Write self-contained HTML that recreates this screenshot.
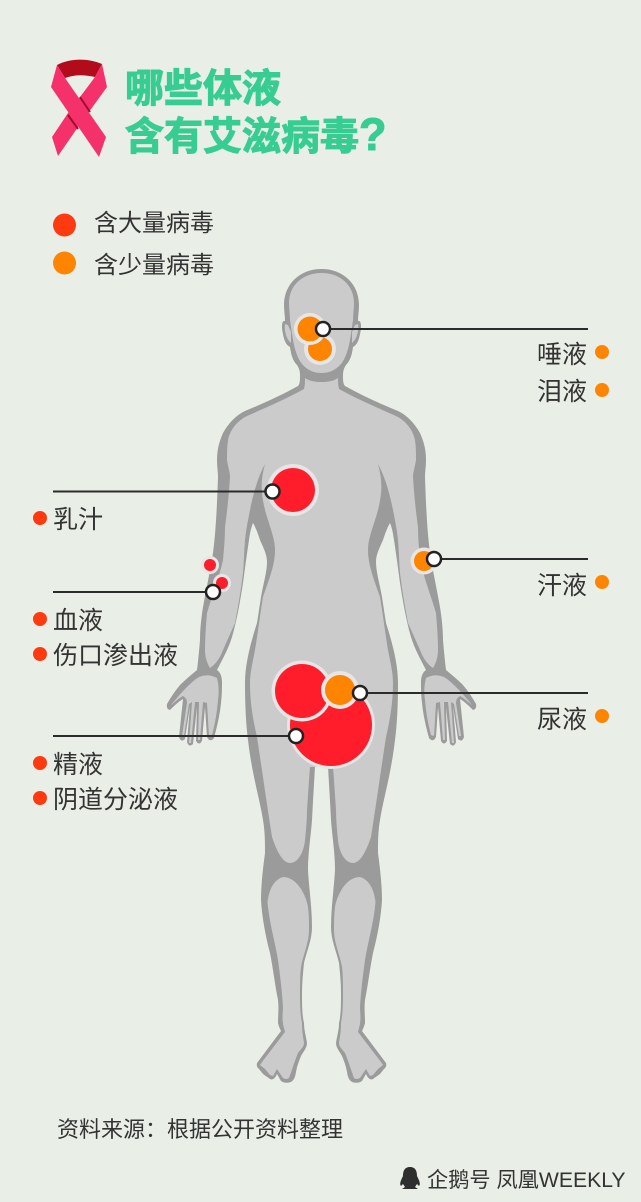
<!DOCTYPE html>
<html><head><meta charset="utf-8"><style>
html,body{margin:0;padding:0;background:#e9efe6}
svg{display:block}
text{font-family:"Liberation Sans","Noto Sans CJK SC",sans-serif;font-size:25px;fill:#333}
.t{font-weight:700;font-size:39px;fill:#37cd92;stroke:#37cd92;stroke-width:1.1}
</style></head><body>
<svg width="641" height="1202" viewBox="0 0 641 1202" xmlns="http://www.w3.org/2000/svg">
<defs>
<g id="half">
<path fill="#9b9b9b" d="M321.5,269C300,269 284,284 284,305C284,311 285,316 285,321C282,320 281,326 283,334C284,340 286,345 290,347C291,355 293,361 297,365C299,368 300,371 300,375C300,380 300,384 298,386C280,396 262,404 245,411C236,415 228,424 223,433C219,442 217,450 217,460C217,467 218,472 218,477C217,505 216,530 213,553C210,572 206,590 203,607C201,620 200,630 200,640C199,652 198,662 197,670C191,675 185,680 180,685C175,691 171,697 167,704Q166,709 170,710C174,706 178,702 183,699L179,737Q181,743 185,739L190,706L187,742Q189,748 193,744L197,707L196,741Q199,746 202,741L205,707L207,737Q210,743 214,738C217,727 220,714 221,703C222,695 222,688 222,682C222,676 220,672 217,670C222,660 228,650 232,637C237,620 240,602 243,583C245,568 247,553 249,540C250,533 251,528 253,523C256,528 258,534 260,540C264,549 267,555 267,562C267,572 263,585 261,597L257,623C250,645 245,665 245,683C245,705 246,725 248,740C252,775 260,800 263,820C265,832 265,842 265,853C263,868 261,885 261,900C262,918 266,938 270,953C273,968 275,985 278,1000C279,1008 278,1015 278,1023C279,1027 280,1029 281,1031L257,1063Q256,1067 259,1069L263,1074L270,1079Q274,1081 277,1074L281,1081Q285,1084 291,1082Q295,1080 296,1072C297,1066 299,1061 301,1056C303,1052 307,1048 307,1043C306,1036 304,1030 304,1023C302,1015 302,1003 302,993C302,983 303,973 304,963C307,950 312,940 312,927C312,908 309,888 308,870C308,852 311,835 312,820C313,800 314,785 315,766L321.5,766Z"/>
<path fill="#cbcbcb" d="M321.5,273C302,273 289,286 289,303C289,309 290,315 290,320C291,327 292,334 293,340C295,351 298,359 302,364C308,371 315,373 321.5,373Z"/>
<path fill="#cbcbcb" d="M285,324C284,330 286,339 291,343L291,332L288,325Z"/>
<path fill="#cbcbcb" d="M321.500,382C315,382 309,381 305,378C305,382 305,385 304,389C286,399 265,408 247,416C237,421 230,430 228,440C227,447 227,453 227,460C228,467 230,472 230,477C229,495 227,512 225,527C225,538 224,549 223,560C219,578 212,596 207,613C206,625 205,638 205,650C205,657 207,663 210,668C216,664 220,658 223,650C227,641 231,632 235,623C238,607 241,590 243,573C244,562 244,551 245,540C246,530 248,520 250,510C254,490 259,475 265,464C262,475 261,485 262,493C263,503 265,511 268,520C271,530 275,540 275,550C275,566 268,582 263,597C260,615 258,632 255,650C253,661 250,672 250,683C250,702 253,720 257,737C262,770 267,805 272,837C277,852 283,863 290,863C298,863 304,852 305,840C306,830 307,820 307,810C308,795 309,780 310,767L321.5,767Z"/>
<path fill="#cbcbcb" d="M283,877C276,879 270,886 268,899C267,902 268,905 268,907C270,925 275,942 278,960C280,975 282,990 283,1007C283,1012 282,1016 283,1024L285,1032L262,1062L260,1065L265,1069L270,1075L273,1076L277,1069L283,1078Q287,1080 289,1078C292,1070 295,1060 298,1053C300,1050 304,1047 304,1043C303,1036 302,1032 302,1023C300,1013 300,1003 300,993C300,984 300,975 301,967C303,955 309,943 309,930C309,922 309,915 308,907C306,895 297,877 283,877Z"/>
<path fill="#cbcbcb" d="M217,678Q208,673 199,677C194,680 190,684 186,688C181,693 176,699 171,705C175,702 179,698 183,696Q187,698 187,703L182,736L184,736L189,704L192,702L189,743L191,743L195,702L199,702L198,740L200,740L203,702L207,703L209,736L212,735C215,724 217,712 218,700C219,693 219,686 217,678Z"/>
</g>
</defs>
<rect width="641" height="1202" fill="#e9efe6"/>

<path d="M57,65L65,78Q78,73 95,77L102,64C88,58 70,58 57,65Z" fill="#b20c1c"/>
<path d="M102,64L107,87L78,127L58,156L52,137L68,113L95,77Z" fill="#f5316c"/>
<path d="M57,65L51,87L99,157L106,137L65,78Z" fill="#f5316c"/>
<path d="M80,97L90,112M68,115L78,129" stroke="#a00d2c" stroke-width="2" fill="none"/>
<text class="t" x="125" y="102">哪些体液</text>
<text class="t" x="125" y="150">含有艾滋病毒<tspan style="font-size:45px">?</tspan></text>

<circle cx="64.500" cy="225" r="11.500" fill="#ff3a10"/>
<circle cx="64.500" cy="263" r="11.500" fill="#ff8500"/>
<text x="94" y="231" style="font-size:24px">含大量病毒</text>
<text x="94" y="273" style="font-size:24px">含少量病毒</text>

<use href="#half"/>
<use href="#half" transform="matrix(-1 0 0 1 643 0)"/>

<g fill="#e6e6e6">
<circle cx="310" cy="329" r="16"/><circle cx="320" cy="349" r="16"/>
<circle cx="293" cy="490" r="26"/><circle cx="210" cy="565" r="9"/><circle cx="222" cy="583" r="9"/>
<circle cx="424" cy="561" r="13.5"/>
<circle cx="331" cy="725" r="44"/>
</g>
<circle cx="331" cy="725" r="41" fill="#ff1c2b"/>
<circle cx="302" cy="691" r="30.5" fill="#e6e6e6"/>
<circle cx="302" cy="691" r="27" fill="#ff1c2b"/>
<circle cx="340" cy="690" r="19" fill="#e6e6e6"/>
<circle cx="340" cy="690" r="15" fill="#ff8500"/>
<circle cx="320" cy="349" r="12" fill="#ff8500"/>
<circle cx="310" cy="329" r="16" fill="#e6e6e6"/>
<circle cx="310" cy="329" r="12.5" fill="#ff8500"/>
<circle cx="293" cy="490" r="22" fill="#ff1c2b"/>
<circle cx="210" cy="565" r="6" fill="#ff1c2b"/>
<circle cx="222" cy="583" r="6" fill="#ff1c2b"/>
<circle cx="424" cy="561" r="10" fill="#ff8500"/>

<g stroke="#2b2b2b" stroke-width="2">
<path d="M323,329H588M53,491.5H272M53,592H213M434,559H588M360,693H588M53,736H296"/>
</g>
<g fill="#fff" stroke="#222" stroke-width="2.5">
<circle cx="323" cy="329" r="7"/><circle cx="272.500" cy="491.500" r="7"/><circle cx="213" cy="592" r="7"/>
<circle cx="434" cy="559" r="7"/><circle cx="360" cy="693" r="7"/><circle cx="296" cy="736" r="7"/>
</g>

<text x="537" y="363">唾液</text><text x="537" y="400">泪液</text>
<text x="537" y="594">汗液</text><text x="537" y="728">尿液</text>
<text x="53" y="528">乳汁</text><text x="53" y="629">血液</text><text x="53" y="664">伤口渗出液</text>
<text x="53" y="773">精液</text><text x="53" y="808">阴道分泌液</text>
<g fill="#ff8500"><circle cx="602" cy="352" r="7"/><circle cx="602" cy="390" r="7"/><circle cx="602" cy="582" r="7"/><circle cx="602" cy="716" r="7"/></g>
<g fill="#ff3a10"><circle cx="40" cy="518" r="7"/><circle cx="40" cy="619" r="7"/><circle cx="40" cy="654" r="7"/><circle cx="40" cy="763" r="7"/><circle cx="40" cy="798" r="7"/></g>

<text x="57" y="1137" style="font-size:22px">资料来源：根据公开资料整理</text>
<path d="M410,1167C404,1167 403,1172 403,1176C401,1180 399,1184 401,1186L403,1184L405,1187L402,1189H418L415,1187L417,1184L419,1186C421,1184 419,1180 417,1176C417,1172 416,1167 410,1167Z" fill="#2e2e2e"/>
<text x="427" y="1187" style="font-size:21.200px">企鹅号 凤凰WEEKLY</text>
</svg>
</body></html>
